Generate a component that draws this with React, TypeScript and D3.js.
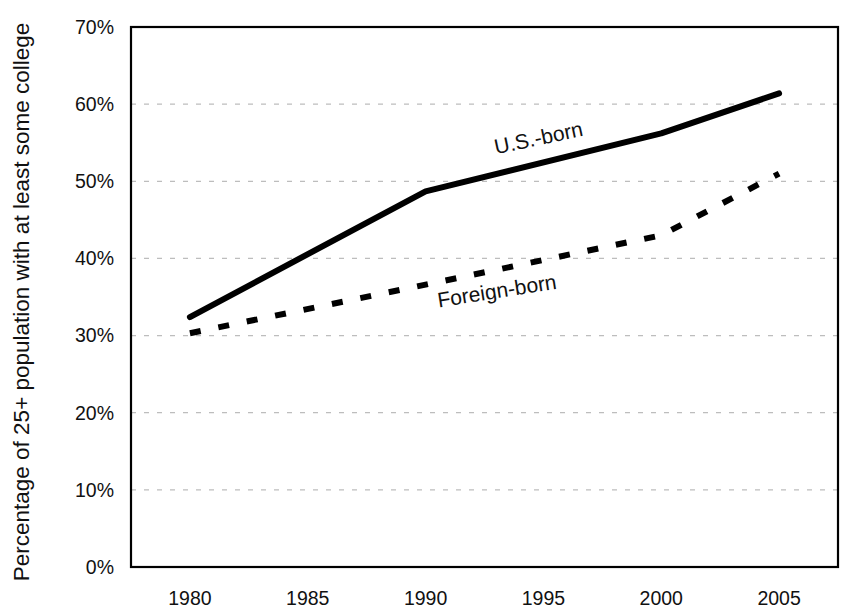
import React from "react";
import * as d3 from "d3";

const years = ["1980", "1985", "1990", "1995", "2000", "2005"];
const usYears = ["1980", "1990", "2000", "2005"];
const usBorn = [32.4, 48.7, 56.2, 61.4];
const fbYears = ["1980", "1990", "2000", "2005"];
const foreignBorn = [30.3, 36.6, 43.0, 51.0];
const yTicks = [0, 10, 20, 30, 40, 50, 60, 70];

const W = 854;
const H = 610;
const M = { top: 27, right: 16, bottom: 43, left: 131 };

export default function App() {
  const iw = W - M.left - M.right;
  const ih = H - M.top - M.bottom;
  const x = d3.scalePoint<string>().domain(years).range([0, iw]).padding(0.5);
  const y = d3.scaleLinear().domain([0, 70]).range([ih, 0]);

  const line = d3
    .line<[string, number]>()
    .x((d) => x(d[0]) ?? 0)
    .y((d) => y(d[1]));

  const usPts = usYears.map((yr, i) => [yr, usBorn[i]] as [string, number]);
  const fbPts = fbYears.map((yr, i) => [yr, foreignBorn[i]] as [string, number]);

  const font = "'Liberation Sans', Arial, Helvetica, sans-serif";

  return (
    <svg
      width={W}
      height={H}
      style={{ position: "absolute", left: 0, top: 0, background: "#fff" }}
      fontFamily={font}
    >
      <g transform={`translate(${M.left},${M.top})`}>
        {yTicks.slice(1, -1).map((t) => (
          <line
            key={t}
            x1={0}
            x2={iw}
            y1={y(t)}
            y2={y(t)}
            stroke="#bdbdbd"
            strokeWidth={1.2}
            strokeDasharray="5,8"
          />
        ))}
        {yTicks.map((t) => (
          <text key={t} x={-17} y={y(t)} dy="0.35em" textAnchor="end" fontSize={19.5} fill="#111">
            {t}%
          </text>
        ))}
        {years.map((yr) => (
          <text key={yr} x={x(yr)} y={ih + 38} textAnchor="middle" fontSize={19.5} fill="#111">
            {yr}
          </text>
        ))}
        <path d={line(fbPts) ?? ""} fill="none" stroke="#000" strokeWidth={6} strokeDasharray="11,18" />
        <path
          d={line(usPts) ?? ""}
          fill="none"
          stroke="#000"
          strokeWidth={6}
          strokeLinecap="round"
          strokeLinejoin="round"
        />
        <text
          transform={`translate(${540 - M.left},${145 - M.top}) rotate(-12)`}
          textAnchor="middle"
          fontSize={21}
          fill="#111"
        >
          U.S.-born
        </text>
        <text
          transform={`translate(${498 - M.left},${298 - M.top}) rotate(-9)`}
          textAnchor="middle"
          fontSize={21}
          fill="#111"
        >
          Foreign-born
        </text>
        <rect x={0} y={0} width={iw} height={ih} fill="none" stroke="#000" strokeWidth={2.2} />
      </g>
      <text
        transform={`translate(29,302) rotate(-90)`}
        textAnchor="middle"
        fontSize={22.5}
        fill="#111"
      >
        Percentage of 25+ population with at least some college
      </text>
    </svg>
  );
}
